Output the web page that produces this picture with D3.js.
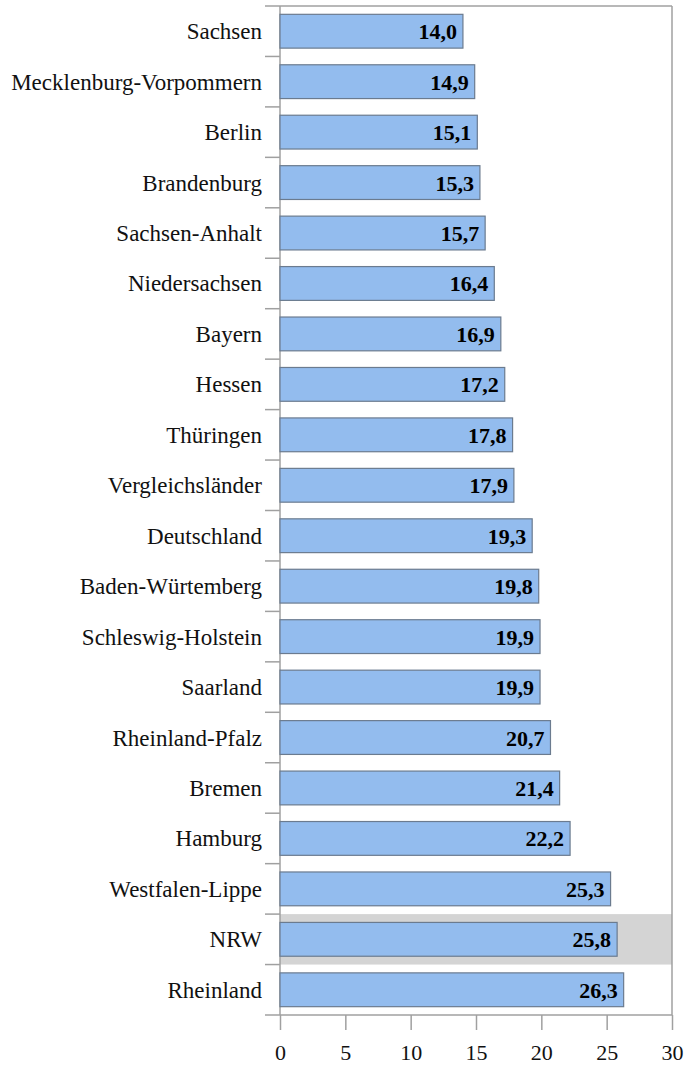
<!DOCTYPE html>
<html><head><meta charset="utf-8">
<script src="https://cdn.jsdelivr.net/npm/d3@7"></script>
<style>
html,body{margin:0;padding:0;background:#fff;}
svg{display:block;}
</style></head>
<body>
<script>
const categories = ["Sachsen","Mecklenburg-Vorpommern","Berlin","Brandenburg","Sachsen-Anhalt","Niedersachsen","Bayern","Hessen","Thüringen","Vergleichsländer","Deutschland","Baden-Würtemberg","Schleswig-Holstein","Saarland","Rheinland-Pfalz","Bremen","Hamburg","Westfalen-Lippe","NRW","Rheinland"];
const values = [14.0,14.9,15.1,15.3,15.7,16.4,16.9,17.2,17.8,17.9,19.3,19.8,19.9,19.9,20.7,21.4,22.2,25.3,25.8,26.3];
const highlighted = ["NRW"];
const xTicks = [0,5,10,15,20,25,30];

(function(){
const W = 685, H = 1065;
const pLeft = 280, pRight = 672, pTop = 6, pBottom = 1015;
const svg = d3.select("body").append("svg").attr("width", W).attr("height", H);

const x = d3.scaleLinear().domain([0,30]).range([pLeft,pRight]);
const y = d3.scaleBand().domain(categories).range([pTop,pBottom]).paddingInner(0.33).paddingOuter(0.165);
const step = y.step();
const slot = c => y(c) - y.paddingInner()*step/2;

const font = "'Liberation Serif','Times New Roman',serif";
const gray = "#a0a0a0";

svg.selectAll("rect.hl").data(highlighted).enter().append("rect")
  .attr("x", x(0)).attr("width", x(30)-x(0))
  .attr("y", d => slot(d)).attr("height", step)
  .attr("fill", "#d4d4d4");

svg.append("line").attr("x1", pLeft-15).attr("x2", pRight).attr("y1", pTop).attr("y2", pTop).attr("stroke", gray).attr("stroke-width", 1.5);
svg.append("line").attr("x1", pRight).attr("x2", pRight).attr("y1", pTop).attr("y2", pBottom).attr("stroke", gray).attr("stroke-width", 1.5);
svg.append("line").attr("x1", pLeft).attr("x2", pLeft).attr("y1", pTop).attr("y2", pBottom).attr("stroke", gray).attr("stroke-width", 1.5);

const bounds = categories.slice(1).map(c => slot(c));
svg.selectAll("line.ct").data(bounds).enter().append("line")
  .attr("x1", pLeft-15).attr("x2", pLeft).attr("y1", d=>d).attr("y2", d=>d)
  .attr("stroke", gray).attr("stroke-width", 1.5);

const xAxis = d3.axisBottom(x).tickValues(xTicks).tickSize(15).tickPadding(14).tickFormat(d3.format("d"));
const gx = svg.append("g").attr("transform", `translate(0,${pBottom})`).call(xAxis);
gx.select(".domain").remove();
gx.selectAll(".tick line").attr("stroke", gray).attr("stroke-width", 1.5);
gx.selectAll(".tick text").attr("font-family", font).attr("font-size", 22).attr("fill", "#111");
svg.append("line").attr("x1", pLeft-15).attr("x2", pRight).attr("y1", pBottom).attr("y2", pBottom).attr("stroke", gray).attr("stroke-width", 1.5);

svg.selectAll("rect.bar").data(categories).enter().append("rect")
  .attr("x", x(0)).attr("y", d => y(d))
  .attr("width", (d,i) => x(values[i]) - x(0))
  .attr("height", y.bandwidth())
  .attr("fill", "#93bcee").attr("stroke", "#6b7b8f").attr("stroke-width", 1.2);

svg.selectAll("text.cat").data(categories).enter().append("text")
  .attr("x", 262).attr("y", d => y(d) + y.bandwidth()/2 + 8)
  .attr("text-anchor", "end").attr("font-family", font).attr("font-size", 23).attr("fill", "#111")
  .text(d => d);

const fmt = v => v.toFixed(1).replace(".", ",");
svg.selectAll("text.val").data(categories).enter().append("text")
  .attr("x", (d,i) => x(values[i]) - 6).attr("y", d => y(d) + y.bandwidth()/2 + 8)
  .attr("text-anchor", "end").attr("font-family", font).attr("font-size", 22).attr("font-weight", "bold").attr("fill", "#000")
  .text((d,i) => fmt(values[i]));
})();
</script>
</body></html>
